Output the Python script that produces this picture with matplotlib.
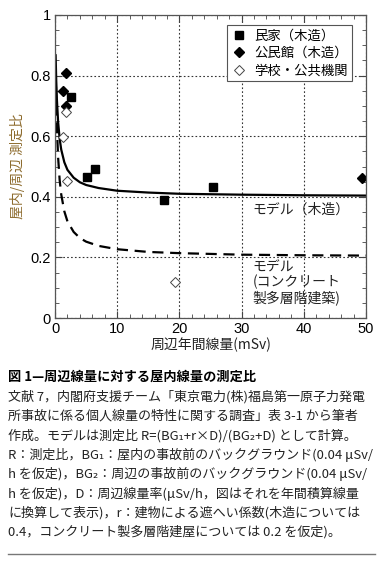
import matplotlib
matplotlib.use('Agg')
import matplotlib.pyplot as plt
from matplotlib.ticker import MultipleLocator, FuncFormatter

plt.rcParams['font.family'] = ['Noto Sans CJK JP', 'DejaVu Sans']

# 民家(木造)
house_x = [2.6, 5.1, 6.5, 17.6, 25.4]
house_y = [0.730, 0.465, 0.491, 0.389, 0.431]
# 公民館(木造)
hall_x = [1.35, 1.8, 1.8, 49.3]
hall_y = [0.749, 0.809, 0.700, 0.463]
# 学校・公共機関
school_x = [1.7, 1.35, 2.0, 19.3]
school_y = [0.680, 0.598, 0.452, 0.119]

# model curves
model_x = [0.1, 0.2, 0.3, 0.5, 0.75, 1, 1.5, 2, 3, 4, 5, 7, 10, 15, 20, 30, 40, 50]
wood_y = [0.867, 0.782, 0.723, 0.647, 0.591, 0.556, 0.514, 0.489, 0.463, 0.448,
          0.439, 0.429, 0.420, 0.414, 0.410, 0.407, 0.405, 0.404]
concrete_y = [0.822, 0.709, 0.631, 0.530, 0.455, 0.408, 0.352, 0.319, 0.284, 0.264,
              0.252, 0.238, 0.227, 0.218, 0.214, 0.209, 0.207, 0.206]

caption_title = '図 1—周辺線量に対する屋内線量の測定比'
caption_lines = [
    '文献 7，内閣府支援チーム「東京電力(株)福島第一原子力発電',
    '所事故に係る個人線量の特性に関する調査」表 3-1 から筆者',
    '作成。モデルは測定比 R=(BG₁+r×D)/(BG₂+D) として計算。',
    'R：測定比，BG₁：屋内の事故前のバックグラウンド(0.04 μSv/',
    'h を仮定)，BG₂：周辺の事故前のバックグラウンド(0.04 μSv/',
    'h を仮定)，D：周辺線量率(μSv/h，図はそれを年間積算線量',
    'に換算して表示)，r：建物による遮へい係数(木造については',
    '0.4，コンクリート製多層階建屋については 0.2 を仮定)。',
]

fig = plt.figure(figsize=(3.86, 5.63), dpi=100)
ax = fig.add_axes([55 / 386, 1 - 318 / 563, 311 / 386, 303 / 563])

ax.plot(model_x, wood_y, color='black', lw=1.6)
ax.plot(model_x, concrete_y, color='black', lw=1.6, dashes=(5, 3))

ax.plot(house_x, house_y, 's', color='black', ms=5.2, ls='none', label='民家（木造）')
ax.plot(hall_x, hall_y, 'D', color='black', ms=5.2, ls='none', label='公民館（木造）')
ax.plot(school_x, school_y, 'D', mfc='white', mec='#444444', mew=0.7, ms=5.2,
        ls='none', label='学校・公共機関')

ax.set_xlim(0, 50)
ax.set_ylim(0, 1)
ax.xaxis.set_major_locator(MultipleLocator(10))
ax.xaxis.set_minor_locator(MultipleLocator(2))
ax.yaxis.set_major_locator(MultipleLocator(0.2))
ax.yaxis.set_minor_locator(MultipleLocator(0.05))
ax.yaxis.set_major_formatter(FuncFormatter(lambda v, p: '%g' % round(v, 2)))
ax.tick_params(which='both', direction='in', top=True, right=True, color='#444444')
ax.tick_params(which='major', length=5, labelsize=10.5, pad=3)
ax.tick_params(which='minor', length=3)
for lab in ax.get_xticklabels() + ax.get_yticklabels():
    lab.set_family(['Liberation Sans', 'DejaVu Sans'])
for s in ax.spines.values():
    s.set_color('#555555')
    s.set_linewidth(0.9)
ax.grid(True, which='major', ls=(0, (1.5, 2)), color='#333333', lw=0.8)

ax.set_xlabel('周辺年間線量(mSv)', fontsize=10, labelpad=1, color='#222222')
ax.set_ylabel('屋内/周辺 測定比', fontsize=10, color='#8c6a2c', labelpad=4)

leg = ax.legend(loc='upper right', fontsize=9.6, frameon=True, fancybox=False,
                edgecolor='#555555', framealpha=1, handletextpad=0.5,
                borderpad=0.3, labelspacing=0.25, handlelength=1.2,
                bbox_to_anchor=(0.975, 0.99))
leg.get_frame().set_linewidth(0.8)

ax.text(31.8, 0.356, 'モデル（木造）', fontsize=10, va='center', ha='left', color='#222222')
ax.text(31.8, 0.19, 'モデル\n(コンクリート\n製多層階建築)', fontsize=10, va='top',
        ha='left', linespacing=1.05, color='#222222')

fig.text(8 / 386, 1 - 377 / 563, caption_title, fontsize=9.5, weight='bold',
         va='center', ha='left')
for i, line in enumerate(caption_lines):
    fig.text(8 / 386, 1 - (397 + i * 19.3) / 563, line, fontsize=9.4,
             va='center', ha='left', color='#222222')

fig.add_artist(plt.Line2D([8 / 386, 375 / 386], [1 - 554 / 563, 1 - 554 / 563],
                          color='#777777', lw=1.0))

fig.savefig('out.png', dpi=100)
